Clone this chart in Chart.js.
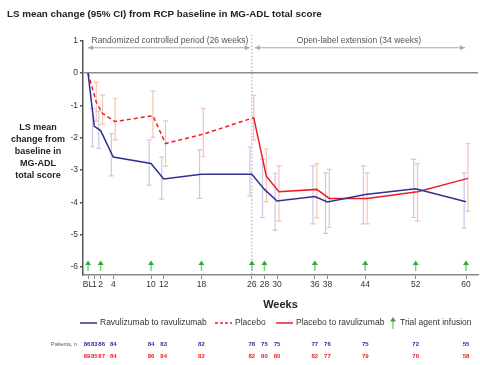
<!DOCTYPE html>
<html>
<head>
<meta charset="utf-8">
<script src="https://cdn.jsdelivr.net/npm/chart.js@4.4.0/dist/chart.umd.min.js"></script>
<style>
  html, body { margin: 0; padding: 0; background: #fff; }
</style>
</head>
<body>
<canvas id="chart" width="480" height="365"></canvas>
<script>
const weeks = [0, 1, 2, 4, 10, 12, 18, 26, 28, 30, 36, 38, 44, 52, 60];
const weekLabels = ["BL", "1", "2", "4", "10", "12", "18", "26", "28", "30", "36", "38", "44", "52", "60"];
const yTicks = [1, 0, -1, -2, -3, -4, -5, -6];

// Ravulizumab to ravulizumab, all visits
const ravMean = [0, -1.65, -1.78, -2.6, -2.8, -3.28, -3.13, -3.13, -3.6, -3.96, -3.82, -3.99, -3.76, -3.58, -3.98];
const ravLow  = [null, -2.28, -2.33, -3.18, -3.47, -3.9, -3.88, -3.8, -4.47, -4.87, -4.67, -4.96, -4.67, -4.47, -4.79];
const ravHigh = [null, -1.09, -1.18, -1.87, -2.07, -2.6, -2.38, -2.28, -2.67, -3.1, -2.87, -3.09, -2.87, -2.67, -3.09];

// Placebo, BL to week 26
const placeboWeeks = [0, 1, 2, 4, 10, 12, 18, 26];
const placeboMean = [0, -0.9, -1.25, -1.5, -1.32, -2.18, -1.89, -1.38];
const placeboLow  = [null, -1.49, -1.59, -2.07, -1.99, -2.88, -2.59, -2.07];
const placeboHigh = [null, -0.29, -0.68, -0.78, -0.56, -1.48, -1.09, -0.69];

// Placebo to ravulizumab, week 26 to 60
const switchWeeks = [26, 28, 30, 36, 38, 44, 52, 60];
const switchMean = [-1.38, -3.19, -3.67, -3.6, -3.88, -3.88, -3.67, -3.26];
const switchLow  = [null, -3.98, -4.58, -4.48, -4.78, -4.67, -4.58, -4.27];
const switchHigh = [null, -2.35, -2.87, -2.8, -2.98, -3.09, -2.8, -2.18];

const infusionWeeks = [0, 2, 10, 18, 26, 28, 36, 44, 52, 60];
const patientsRav = [86, 83, 86, 84, 84, 83, 82, 78, 75, 75, 77, 76, 75, 72, 55];
const patientsPbo = [89, 85, 87, 84, 86, 84, 82, 82, 80, 80, 82, 77, 79, 76, 58];

const NAVY = "#2e3192";
const RED = "#ee1c25";
const GREEN = "#36a83a";
const FONT = "'Liberation Sans', Arial, sans-serif";

Chart.defaults.font.family = FONT;

function drawBars(ctx, x, y, xs, lows, highs, shift, color) {
  ctx.strokeStyle = color;
  ctx.lineWidth = 1.2;
  xs.forEach((w, i) => {
    if (lows[i] == null) return;
    const px = x.getPixelForValue(w + shift);
    const y1 = y.getPixelForValue(lows[i]);
    const y2 = y.getPixelForValue(highs[i]);
    ctx.beginPath();
    ctx.moveTo(px, y1); ctx.lineTo(px, y2);
    ctx.moveTo(px - 2.5, y1); ctx.lineTo(px + 2.5, y1);
    ctx.moveTo(px - 2.5, y2); ctx.lineTo(px + 2.5, y2);
    ctx.stroke();
  });
}

function upArrow(ctx, px, yBottom, yTop) {
  ctx.strokeStyle = "#7fd07f";
  ctx.lineWidth = 1.5;
  ctx.beginPath(); ctx.moveTo(px, yBottom); ctx.lineTo(px, yTop + 3); ctx.stroke();
  ctx.fillStyle = GREEN;
  ctx.beginPath();
  ctx.moveTo(px, yTop); ctx.lineTo(px - 3, yTop + 4.5); ctx.lineTo(px + 3, yTop + 4.5);
  ctx.closePath(); ctx.fill();
}

function hArrow(ctx, x1, x2, yy) {
  ctx.strokeStyle = "#aaa";
  ctx.fillStyle = "#aaa";
  ctx.lineWidth = 1;
  ctx.beginPath(); ctx.moveTo(x1, yy); ctx.lineTo(x2, yy); ctx.stroke();
  ctx.beginPath(); ctx.moveTo(x1, yy); ctx.lineTo(x1 + 5, yy - 2.5); ctx.lineTo(x1 + 5, yy + 2.5); ctx.closePath(); ctx.fill();
  ctx.beginPath(); ctx.moveTo(x2, yy); ctx.lineTo(x2 - 5, yy - 2.5); ctx.lineTo(x2 - 5, yy + 2.5); ctx.closePath(); ctx.fill();
}

const overlay = {
  id: "overlay",
  beforeDatasetsDraw(chart) {
    const { ctx, chartArea: a, scales: { x, y } } = chart;
    ctx.save();
    // end of randomized period
    const x26 = x.getPixelForValue(26);
    ctx.strokeStyle = "#a0a0a0";
    ctx.lineWidth = 1;
    ctx.setLineDash([1.5, 2]);
    ctx.beginPath(); ctx.moveTo(x26, a.top - 6); ctx.lineTo(x26, a.bottom); ctx.stroke();
    ctx.setLineDash([]);

    drawBars(ctx, x, y, weeks, ravLow, ravHigh, -0.3, "#c8c8e8");
    drawBars(ctx, x, y, placeboWeeks, placeboLow, placeboHigh, 0.3, "#f8c2b0");
    drawBars(ctx, x, y, switchWeeks, switchLow, switchHigh, 0.3, "#f8c2b0");
    ctx.restore();
  },
  afterDraw(chart) {
    const { ctx, chartArea: a, scales: { x, y } } = chart;
    ctx.save();

    // infusion arrows
    infusionWeeks.forEach(w => {
      upArrow(ctx, x.getPixelForValue(w), y.getPixelForValue(-6.13), y.getPixelForValue(-5.8));
    });

    // study periods
    const x26 = x.getPixelForValue(26);
    hArrow(ctx, x.getPixelForValue(0), x26 - 2, a.top + 7);
    hArrow(ctx, x26 + 3, x.getPixelForValue(60) - 1, a.top + 7);
    ctx.fillStyle = "#555";
    ctx.font = "8.5px " + FONT;
    ctx.textAlign = "center";
    ctx.textBaseline = "middle";
    ctx.fillText("Randomized controlled period (26 weeks)", (x.getPixelForValue(0) + x26) / 2, a.top);
    ctx.fillText("Open-label extension (34 weeks)", (x26 + x.getPixelForValue(60)) / 2, a.top);

    // y title
    ctx.fillStyle = "#222";
    ctx.font = "bold 9px " + FONT;
    ["LS mean", "change from", "baseline in", "MG-ADL", "total score"].forEach((t, i) => {
      ctx.fillText(t, 38, 128 + i * 12);
    });

    // legend
    const ly = 323;
    ctx.lineWidth = 1.5;
    ctx.strokeStyle = NAVY;
    ctx.beginPath(); ctx.moveTo(80, ly); ctx.lineTo(97, ly); ctx.stroke();
    ctx.strokeStyle = RED;
    ctx.setLineDash([3, 2]);
    ctx.beginPath(); ctx.moveTo(215, ly); ctx.lineTo(232, ly); ctx.stroke();
    ctx.setLineDash([]);
    ctx.beginPath(); ctx.moveTo(276, ly); ctx.lineTo(293, ly); ctx.stroke();
    upArrow(ctx, 393, ly + 6, ly - 6);
    ctx.fillStyle = "#333";
    ctx.font = "8.5px " + FONT;
    ctx.textAlign = "left";
    ctx.fillText("Ravulizumab to ravulizumab", 100, ly);
    ctx.fillText("Placebo", 235, ly);
    ctx.fillText("Placebo to ravulizumab", 296, ly);
    ctx.fillText("Trial agent infusion", 400, ly);

    // patients at risk (first three columns spread slightly so they stay legible)
    ctx.font = "5.5px " + FONT;
    ctx.fillStyle = "#555";
    ctx.textAlign = "right";
    ctx.fillText("Patients, n", 77, 344);
    ctx.font = "bold 6px " + FONT;
    ctx.textAlign = "center";
    weeks.forEach((w, i) => {
      const px = x.getPixelForValue(w) + (i === 0 ? -1 : i === 2 ? 1 : 0);
      ctx.fillStyle = NAVY;
      ctx.fillText(String(patientsRav[i]), px, 344);
      ctx.fillStyle = RED;
      ctx.fillText(String(patientsPbo[i]), px, 356);
    });
    ctx.restore();
  }
};

new Chart(document.getElementById("chart"), {
  type: "line",
  data: {
    datasets: [
      {
        label: "Ravulizumab to ravulizumab",
        data: weeks.map((w, i) => ({ x: w, y: ravMean[i] })),
        borderColor: NAVY,
        borderWidth: 1.5,
        pointRadius: 0,
      },
      {
        label: "Placebo",
        data: placeboWeeks.map((w, i) => ({ x: w + (w ? 0.3 : 0), y: placeboMean[i] })),
        borderColor: RED,
        borderWidth: 1.5,
        borderDash: [4, 3],
        pointRadius: 0,
      },
      {
        label: "Placebo to ravulizumab",
        data: switchWeeks.map((w, i) => ({ x: w + 0.3, y: switchMean[i] })),
        borderColor: RED,
        borderWidth: 1.5,
        pointRadius: 0,
      },
    ],
  },
  options: {
    responsive: false,
    animation: false,
    devicePixelRatio: 1,
    layout: { padding: { left: 7, right: 2, top: 0, bottom: 50 } },
    plugins: {
      legend: { display: false },
      tooltip: { enabled: false },
      title: {
        display: true,
        text: "LS mean change (95% CI) from RCP baseline in MG-ADL total score",
        align: "start",
        color: "#222",
        font: { size: 9.8, weight: "bold" },
        padding: { top: 8, bottom: 21 },
      },
    },
    scales: {
      x: {
        type: "linear",
        min: -0.8,
        max: 61.9,
        afterBuildTicks: (s) => { s.ticks = weeks.map((v) => ({ value: v })); },
        afterFit: (s) => { s.height = 40; },
        ticks: {
          autoSkip: false,
          maxRotation: 0,
          padding: 1,
          color: "#333",
          font: { size: 8.5 },
          callback: (v, i) => weekLabels[i],
        },
        grid: { drawOnChartArea: false, tickLength: 4, color: "#888" },
        border: { color: "#888", width: 1.5 },
        title: {
          display: true,
          text: "Weeks",
          color: "#222",
          font: { size: 11, weight: "bold" },
          padding: { top: 0, bottom: 3 },
        },
      },
      y: {
        min: -6.25,
        max: 1,
        afterBuildTicks: (s) => { s.ticks = yTicks.map((v) => ({ value: v })); },
        afterFit: (s) => { s.width = 76; },
        ticks: { padding: 2, color: "#333", font: { size: 8.5 } },
        grid: {
          color: (c) => (c.tick && c.tick.value === 0 ? "#8c8c8c" : "rgba(0,0,0,0)"),
          lineWidth: 1.5,
          tickColor: "#555",
          tickLength: 3,
        },
        border: { color: "#555", width: 1.5 },
      },
    },
  },
  plugins: [overlay],
});
</script>
</body>
</html>
